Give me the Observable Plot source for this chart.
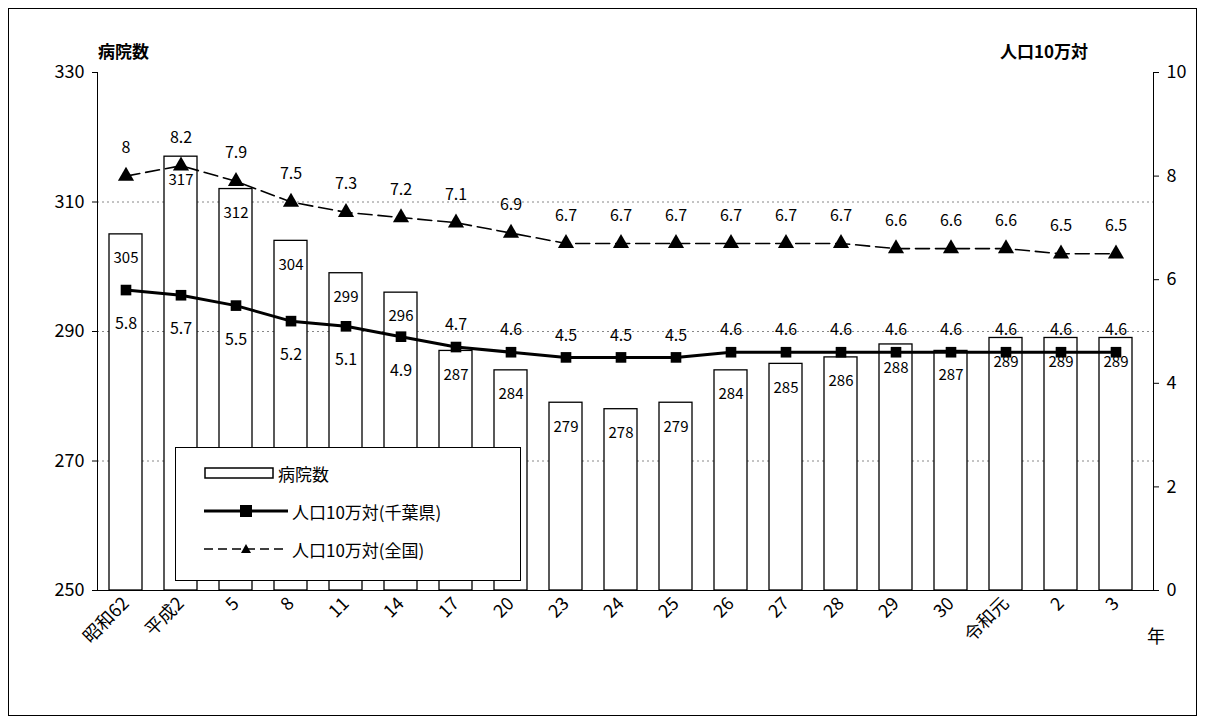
<!DOCTYPE html>
<html>
<head>
<meta charset="utf-8">
<script src="https://cdn.jsdelivr.net/npm/d3@7"></script>
<script src="https://cdn.jsdelivr.net/npm/@observablehq/plot@0.6"></script>
<style>
  body { margin: 0; background: #fff; font-family: "Noto Sans CJK JP", sans-serif; }
  #wrap { position: relative; width: 1205px; height: 724px; }
  #border { position: absolute; left: 8px; top: 8px; width: 1187px; height: 706px; border: 1px solid #000; pointer-events: none; }
  .ttl { position: absolute; font-size: 17px; font-weight: bold; }
  #legend { position: absolute; left: 175px; top: 447px; width: 344px; height: 132px; border: 1px solid #000; background: #fff; font-size: 17px; }
  #legend div { display: flex; align-items: center; height: 38px; margin-left: 28px; }
  #legend svg { margin-right: 4px; }
</style>
</head>
<body>
<div id="wrap">
  <div id="chart"></div>
  <div class="ttl" style="left:98px;top:38px;">病院数</div>
  <div class="ttl" style="left:1000px;top:38px;">人口10万対</div>
  <div class="ttl" style="left:1147px;top:622px;font-weight:normal;font-size:18px;">年</div>
  <div id="legend">
    <div style="margin-top:6px"><svg width="70" height="16"><rect x="1" y="3" width="68" height="10" fill="#fff" stroke="#000" stroke-width="1.5"/></svg>病院数</div>
    <div><svg width="84" height="16"><line x1="0" y1="8" x2="84" y2="8" stroke="#000" stroke-width="3"/><rect x="36" y="2" width="12" height="12" fill="#000"/></svg>人口10万対(千葉県)</div>
    <div><svg width="84" height="16"><line x1="0" y1="8" x2="84" y2="8" stroke="#000" stroke-width="1.5" stroke-dasharray="9,5"/><path d="M42,3 L47,12 L37,12 Z" fill="#000"/></svg>人口10万対(全国)</div>
  </div>
  <div id="border"></div>
</div>
<script>
// 年次
const years = ["昭和62", "平成2", "5", "8", "11", "14", "17", "20", "23", "24", "25", "26", "27", "28", "29", "30", "令和元", "2", "3"]
// 病院数
const hospitals = [305, 317, 312, 304, 299, 296, 287, 284, 279, 278, 279, 284, 285, 286, 288, 287, 289, 289, 289]
// 人口10万対(千葉県)
const chiba = [5.8, 5.7, 5.5, 5.2, 5.1, 4.9, 4.7, 4.6, 4.5, 4.5, 4.5, 4.6, 4.6, 4.6, 4.6, 4.6, 4.6, 4.6, 4.6]
// 人口10万対(全国)
const national = [8, 8.2, 7.9, 7.5, 7.3, 7.2, 7.1, 6.9, 6.7, 6.7, 6.7, 6.7, 6.7, 6.7, 6.6, 6.6, 6.6, 6.5, 6.5]
const rightTicks = [0, 2, 4, 6, 8, 10]

// 右軸(0-10)を左軸(250-330)に換算
const toLeft = v => 250 + v * 8

const data = years.map((y, i) => ({
  year: y, h: hospitals[i], c: chiba[i], n: national[i],
  cy: toLeft(chiba[i]), ny: toLeft(national[i]), i
}))
const below = data.filter(d => d.i < 6)
const above = data.filter(d => d.i >= 6)

let chart = Plot.plot({
  width: 1205,
  height: 724,
  marginLeft: 97,
  marginRight: 52,
  marginTop: 72,
  marginBottom: 134,
  style: { fontFamily: "Noto Sans CJK JP, sans-serif", fontSize: "15px", background: "transparent" },
  x: { domain: years, paddingInner: 0.4, paddingOuter: 0.2, align: 0.36, label: null },
  y: { domain: [250, 330], label: null },
  marks: [
    Plot.ruleY([270, 290, 310], { stroke: "#888", strokeDasharray: "2,3" }),
    Plot.barY(data, { x: "year", y1: 250, y2: "h", fill: "#fff", stroke: "#000", strokeWidth: 1.3 }),
    Plot.text(data, { x: "year", y: "h", text: "h", dy: 24, fontSize: 15 }),
    Plot.line(data, { x: "year", y: "ny", stroke: "#000", strokeWidth: 1.6, strokeDasharray: "14,6" }),
    Plot.dot(data, { x: "year", y: "ny", symbol: "triangle", r: 6, fill: "#000" }),
    Plot.line(data, { x: "year", y: "cy", stroke: "#000", strokeWidth: 3 }),
    Plot.dot(data, { x: "year", y: "cy", symbol: "square", r: 6, fill: "#000" }),
    Plot.text(data, { x: "year", y: "ny", text: "n", dy: -28, fontSize: 16 }),
    Plot.text(below, { x: "year", y: "cy", text: "c", dy: 34, fontSize: 16 }),
    Plot.text(above, { x: "year", y: "cy", text: "c", dy: -22, fontSize: 16 }),
    Plot.axisY({ anchor: "left", ticks: [250, 270, 290, 310, 330], fontSize: 18, tickSize: 5, tickPadding: 8 }),
    Plot.axisY({ anchor: "right", ticks: rightTicks.map(toLeft), tickFormat: d => (d - 250) / 8, fontSize: 18, tickSize: 5, tickPadding: 8 }),
    Plot.axisX({ tickRotate: -45, fontSize: 18, tickSize: 0, tickPadding: 10, textAnchor: "end" }),
    Plot.frame({ anchor: "left" }),
    Plot.frame({ anchor: "right" }),
    Plot.frame({ anchor: "bottom" })
  ]
})

d3.select('#chart').append(() => chart)
</script>
</body>
</html>
